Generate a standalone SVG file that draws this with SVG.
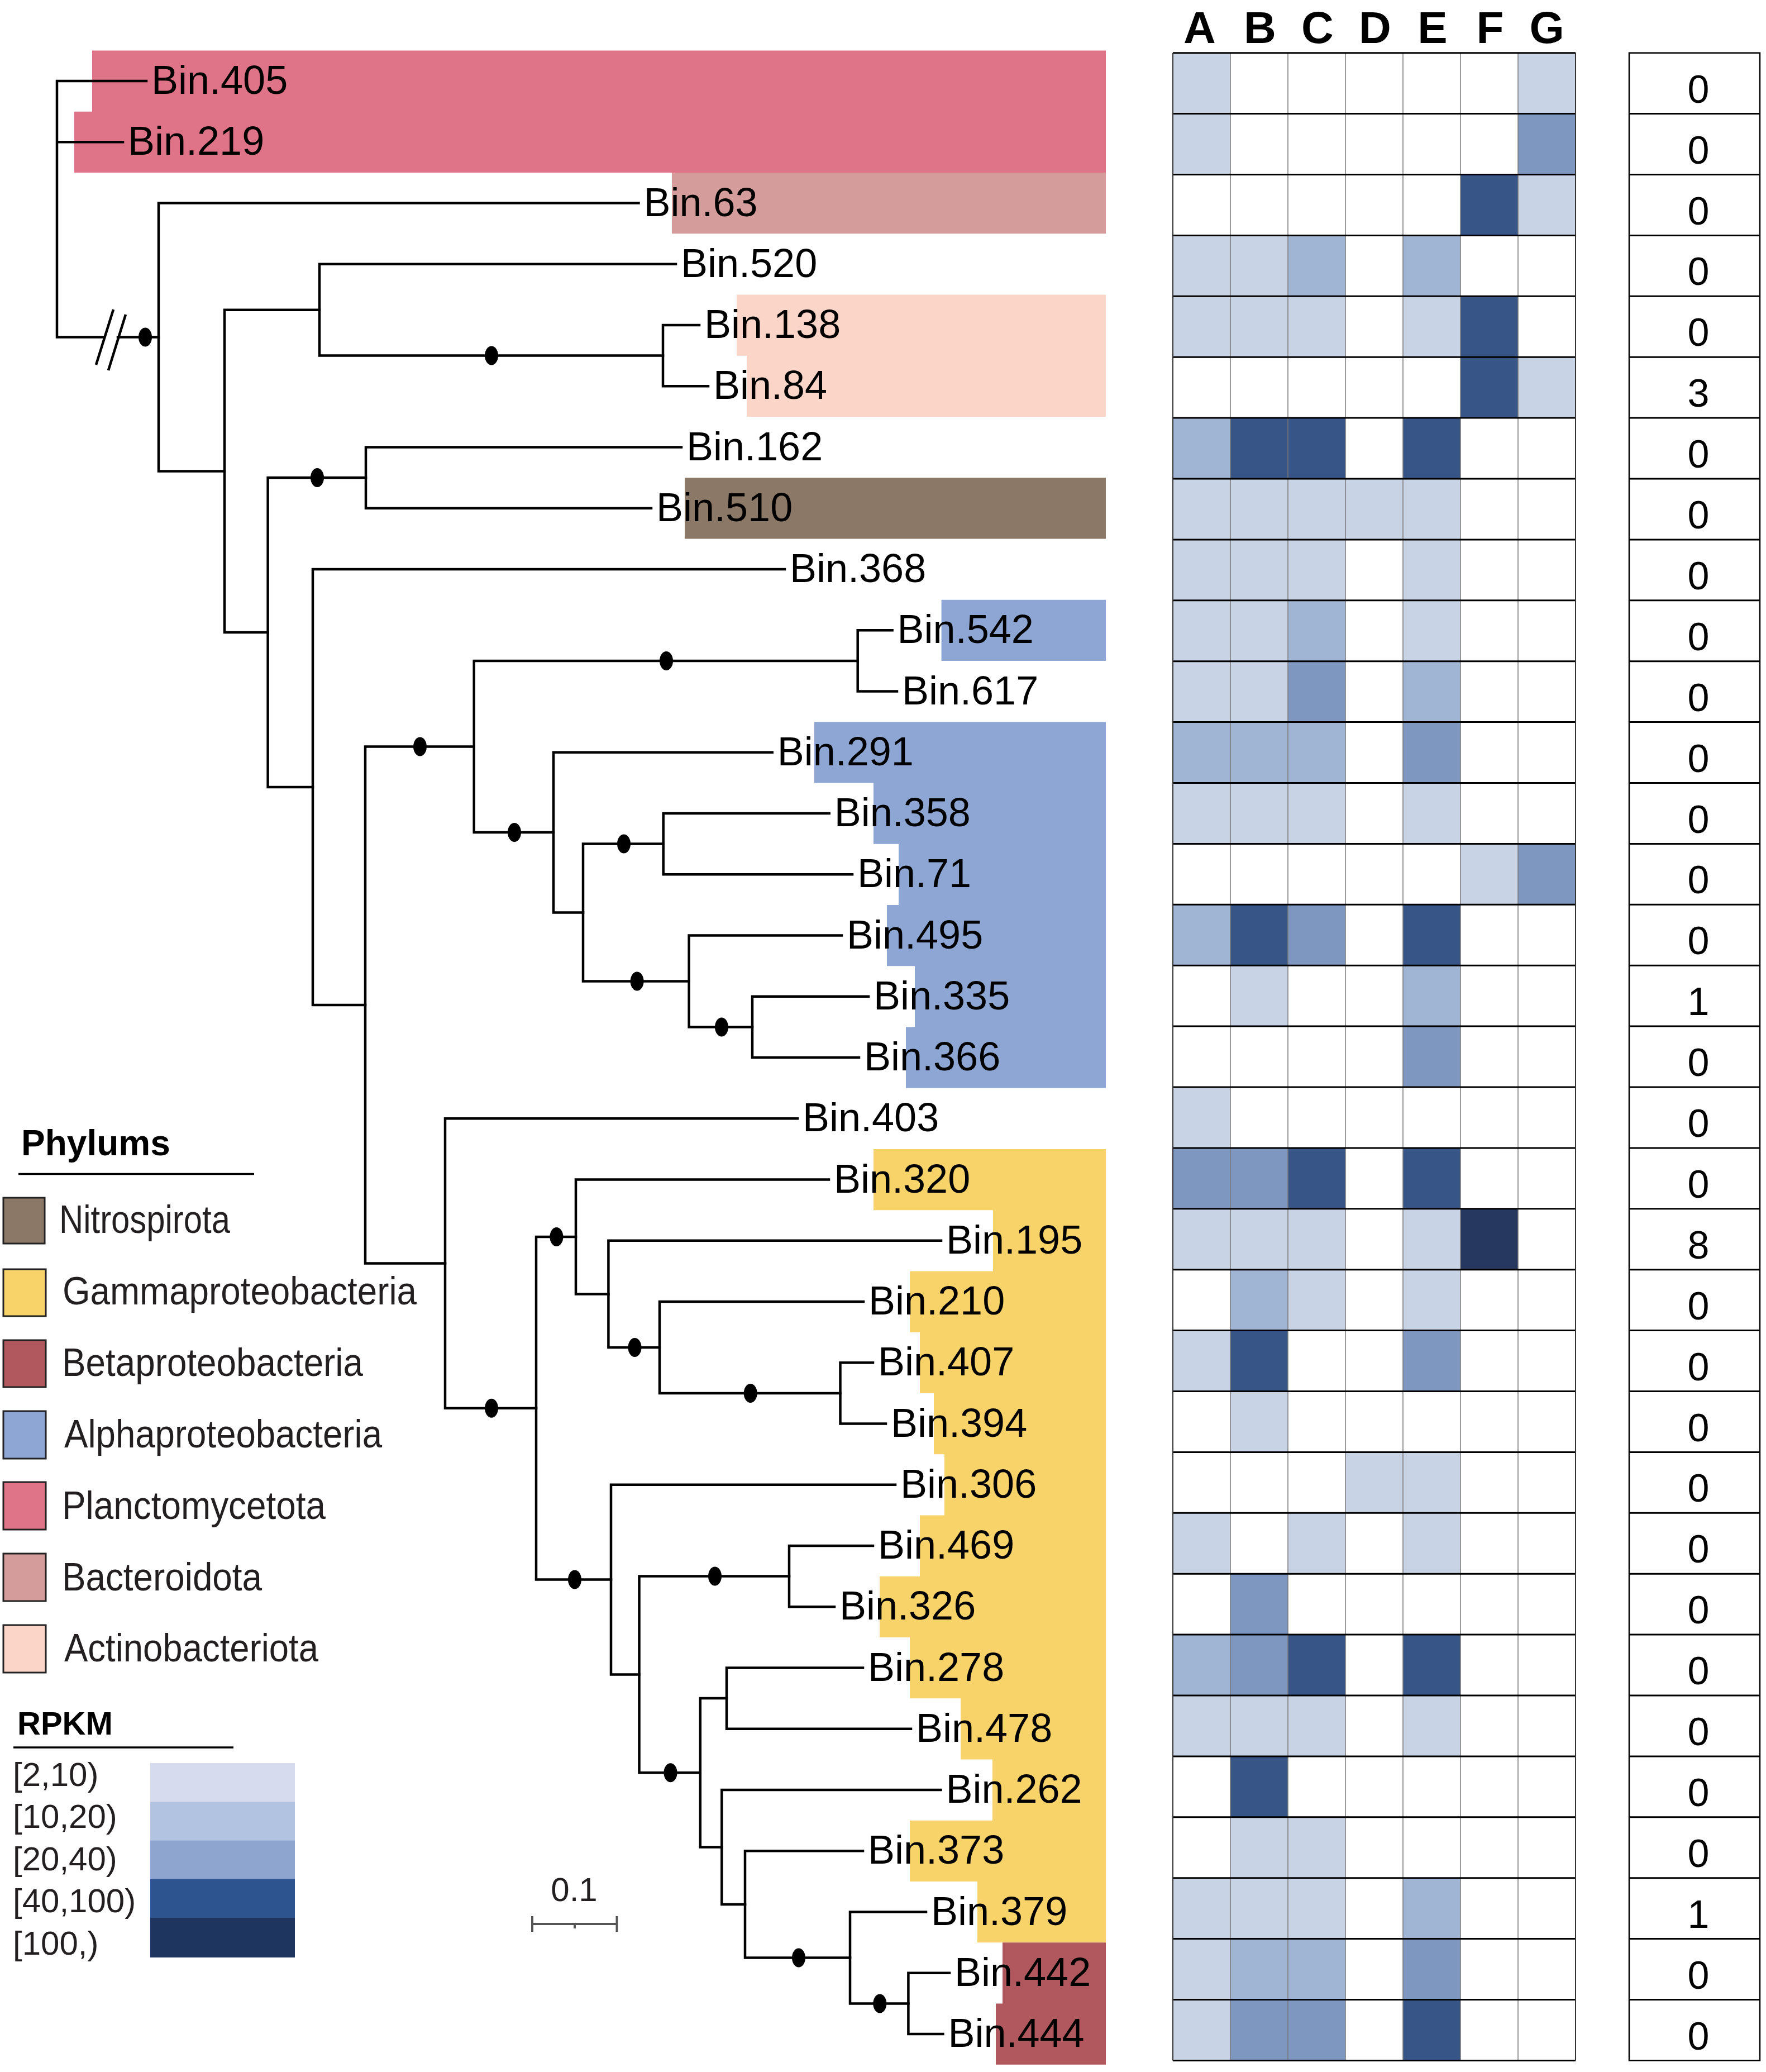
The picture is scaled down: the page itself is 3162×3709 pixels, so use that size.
<svg xmlns="http://www.w3.org/2000/svg" width="3162" height="3709" viewBox="0 0 3162 3709">
<style>
.edge{fill:none;stroke:#000;stroke-width:4.5;stroke-linecap:square}
.dot{fill:#000}
.leaf{font-family:"Liberation Sans",Arial,sans-serif;font-size:72px;fill:#000}
.hdr{font-family:"Liberation Sans",Arial,sans-serif;font-size:80px;font-weight:bold;fill:#000;text-anchor:middle}
.cnt{font-family:"Liberation Sans",Arial,sans-serif;font-size:70px;fill:#000;text-anchor:middle}
.lg{font-family:"Liberation Sans",Arial,sans-serif;font-size:71px;fill:#231f20}
.lgt{font-family:"Liberation Sans",Arial,sans-serif;font-weight:bold;fill:#000}
.rk{font-family:"Liberation Sans",Arial,sans-serif;font-size:60px;fill:#231f20}
.h1{fill:#c8d3e5}.h2{fill:#a0b4d4}.h3{fill:#7e97c0}.h4{fill:#375687}.h5{fill:#26385f}
.hl{stroke:#000;stroke-width:3}
.vl{stroke:#7a7a7a;stroke-width:1.5}
.sw{stroke:#222;stroke-width:3}
</style>

<g id="clade-highlights">
<path id="hl-planctomycetota" fill="#df7387" d="M165,90.4 H1980 V308.9 H133 V199.65 H165 Z"/>
<path id="hl-bacteroidota" fill="#d49c9b" d="M1203,308.9 H1980 V418.15 H1203 Z"/>
<path id="hl-actinobacteriota" fill="#fad5c8" d="M1319,527.4 H1980 V745.9 H1337 V636.65 H1319 Z"/>
<path id="hl-nitrospirota" fill="#8b7866" d="M1226,855.15 H1980 V964.4 H1226 Z"/>
<path id="hl-alpha1" fill="#8da6d4" d="M1685.6,1073.65 H1980 V1182.9 H1685.6 Z"/>
<path id="hl-alpha2" fill="#8da6d4" d="M1458,1292.15 H1980 V1947.65 H1622 V1838.4 H1638 V1729.15 H1588 V1619.9 H1609 V1510.65 H1564 V1401.4 H1458 Z"/>
<path id="hl-gamma" fill="#f7d36a" d="M1564,2056.9 H1980 V3477.15 H1750 V3367.9 H1629 V3258.65 H1777 V3149.4 H1720 V3040.15 H1629 V2930.9 H1575 V2821.65 H1647 V2712.4 H1691 V2603.15 H1672 V2493.9 H1647 V2384.65 H1629 V2275.4 H1778 V2166.15 H1564 Z"/>
<path id="hl-beta" fill="#b0585d" d="M1795,3477.15 H1980 V3695.65 H1783 V3586.4 H1795 Z"/>
</g>

<g id="connectors">
<path class="edge" d="M102,145 V603.5 M102,145 H262 M102,254.25 H220 M102,603.5 H186 M211,603.5 H284"/>
<path class="edge" d="M203,554 L172,653 M225,563 L194,663" style="stroke-linecap:butt"/>
<path class="edge" d="M284,363.5 V843.4 M284,363.5 H1143.5 M284,843.4 H402"/>
<path class="edge" d="M402,554.7 V1132.1 M402,554.7 H572 M402,1132.1 H479.6"/>
<path class="edge" d="M572,472.75 V636.6 M572,472.75 H1210 M572,636.6 H1187"/>
<path class="edge" d="M1187,582 V691.25 M1187,582 H1252 M1187,691.25 H1268"/>
<path class="edge" d="M479.6,855.1 V1409 M479.6,855.1 H655 M479.6,1409 H560"/>
<path class="edge" d="M655,800.5 V909.75 M655,800.5 H1220 M655,909.75 H1166"/>
<path class="edge" d="M560,1019 V1799 M560,1019 H1405 M560,1799 H654"/>
<path class="edge" d="M654,1336.5 V2261.5 M654,1336.5 H848.7 M654,2261.5 H797"/>
<path class="edge" d="M848.7,1182.9 V1490.1 M848.7,1182.9 H1535.7 M848.7,1490.1 H991"/>
<path class="edge" d="M1535.7,1128.25 V1237.5 M1535.7,1128.25 H1597.6 M1535.7,1237.5 H1606"/>
<path class="edge" d="M991,1346.75 V1633.5 M991,1346.75 H1382.7 M991,1633.5 H1044"/>
<path class="edge" d="M1044,1510.6 V1756.4 M1044,1510.6 H1187.7 M1044,1756.4 H1233.6"/>
<path class="edge" d="M1187.7,1456 V1565.25 M1187.7,1456 H1484.7 M1187.7,1565.25 H1526"/>
<path class="edge" d="M1233.6,1674.5 V1838.4 M1233.6,1674.5 H1507 M1233.6,1838.4 H1347"/>
<path class="edge" d="M1347,1783.75 V1893 M1347,1783.75 H1555 M1347,1893 H1538"/>
<path class="edge" d="M797,2002.25 V2520.8 M797,2002.25 H1428 M797,2520.8 H960"/>
<path class="edge" d="M960,2214 V2827.6 M960,2214 H1031 M960,2827.6 H1094"/>
<path class="edge" d="M1031,2111.5 V2316.4 M1031,2111.5 H1484 M1031,2316.4 H1089.4"/>
<path class="edge" d="M1089.4,2220.75 V2412 M1089.4,2220.75 H1685 M1089.4,2412 H1181"/>
<path class="edge" d="M1181,2330 V2493.9 M1181,2330 H1546 M1181,2493.9 H1504.5"/>
<path class="edge" d="M1504.5,2439.25 V2548.5 M1504.5,2439.25 H1563 M1504.5,2548.5 H1586"/>
<path class="edge" d="M1094,2657.75 V2997.4 M1094,2657.75 H1603 M1094,2997.4 H1144.5"/>
<path class="edge" d="M1144.5,2821.6 V3173.3 M1144.5,2821.6 H1413 M1144.5,3173.3 H1253.8"/>
<path class="edge" d="M1413,2767 V2876.25 M1413,2767 H1563 M1413,2876.25 H1494"/>
<path class="edge" d="M1253.8,3040.1 V3306.4 M1253.8,3040.1 H1301 M1253.8,3306.4 H1292.3"/>
<path class="edge" d="M1301,2985.5 V3094.75 M1301,2985.5 H1545 M1301,3094.75 H1631"/>
<path class="edge" d="M1292.3,3204 V3408.9 M1292.3,3204 H1684.4 M1292.3,3408.9 H1334"/>
<path class="edge" d="M1334,3313.25 V3504.5 M1334,3313.25 H1545 M1334,3504.5 H1522"/>
<path class="edge" d="M1522,3422.5 V3586.4 M1522,3422.5 H1658 M1522,3586.4 H1626.4"/>
<path class="edge" d="M1626.4,3531.75 V3641 M1626.4,3531.75 H1700 M1626.4,3641 H1688.4"/>
<g id="support-dots" class="dot">
<ellipse cx="260" cy="603.5" rx="12" ry="17"/>
<ellipse cx="880" cy="636.6" rx="12" ry="17"/>
<ellipse cx="568" cy="855.1" rx="12" ry="17"/>
<ellipse cx="1193" cy="1182.9" rx="12" ry="17"/>
<ellipse cx="752" cy="1336.5" rx="12" ry="17"/>
<ellipse cx="921" cy="1490.1" rx="12" ry="17"/>
<ellipse cx="1117" cy="1510.6" rx="12" ry="17"/>
<ellipse cx="1140.6" cy="1756.4" rx="12" ry="17"/>
<ellipse cx="1292" cy="1838.4" rx="12" ry="17"/>
<ellipse cx="880" cy="2520.8" rx="12" ry="17"/>
<ellipse cx="996.4" cy="2214" rx="12" ry="17"/>
<ellipse cx="1136.5" cy="2412" rx="12" ry="17"/>
<ellipse cx="1343.7" cy="2493.9" rx="12" ry="17"/>
<ellipse cx="1029" cy="2827.6" rx="12" ry="17"/>
<ellipse cx="1280" cy="2821.6" rx="12" ry="17"/>
<ellipse cx="1200.5" cy="3173.3" rx="12" ry="17"/>
<ellipse cx="1430" cy="3504.5" rx="12" ry="17"/>
<ellipse cx="1575.3" cy="3586.4" rx="12" ry="17"/>
</g>
</g>

<g id="leaves" class="leaf">
<g id="leaf-bin405"><text x="271" y="168">Bin.405</text></g>
<g id="leaf-bin219"><text x="229" y="277.25">Bin.219</text></g>
<g id="leaf-bin63"><text x="1152.5" y="386.5">Bin.63</text></g>
<g id="leaf-bin520"><text x="1219" y="495.75">Bin.520</text></g>
<g id="leaf-bin138"><text x="1261" y="605">Bin.138</text></g>
<g id="leaf-bin84"><text x="1277" y="714.25">Bin.84</text></g>
<g id="leaf-bin162"><text x="1229" y="823.5">Bin.162</text></g>
<g id="leaf-bin510"><text x="1175" y="932.75">Bin.510</text></g>
<g id="leaf-bin368"><text x="1414" y="1042">Bin.368</text></g>
<g id="leaf-bin542"><text x="1606.6" y="1151.25">Bin.542</text></g>
<g id="leaf-bin617"><text x="1615" y="1260.5">Bin.617</text></g>
<g id="leaf-bin291"><text x="1391.7" y="1369.75">Bin.291</text></g>
<g id="leaf-bin358"><text x="1493.7" y="1479">Bin.358</text></g>
<g id="leaf-bin71"><text x="1535" y="1588.25">Bin.71</text></g>
<g id="leaf-bin495"><text x="1516" y="1697.5">Bin.495</text></g>
<g id="leaf-bin335"><text x="1564" y="1806.75">Bin.335</text></g>
<g id="leaf-bin366"><text x="1547" y="1916">Bin.366</text></g>
<g id="leaf-bin403"><text x="1437" y="2025.25">Bin.403</text></g>
<g id="leaf-bin320"><text x="1493" y="2134.5">Bin.320</text></g>
<g id="leaf-bin195"><text x="1694" y="2243.75">Bin.195</text></g>
<g id="leaf-bin210"><text x="1555" y="2353">Bin.210</text></g>
<g id="leaf-bin407"><text x="1572" y="2462.25">Bin.407</text></g>
<g id="leaf-bin394"><text x="1595" y="2571.5">Bin.394</text></g>
<g id="leaf-bin306"><text x="1612" y="2680.75">Bin.306</text></g>
<g id="leaf-bin469"><text x="1572" y="2790">Bin.469</text></g>
<g id="leaf-bin326"><text x="1503" y="2899.25">Bin.326</text></g>
<g id="leaf-bin278"><text x="1554" y="3008.5">Bin.278</text></g>
<g id="leaf-bin478"><text x="1640" y="3117.75">Bin.478</text></g>
<g id="leaf-bin262"><text x="1693.4" y="3227">Bin.262</text></g>
<g id="leaf-bin373"><text x="1554" y="3336.25">Bin.373</text></g>
<g id="leaf-bin379"><text x="1667" y="3445.5">Bin.379</text></g>
<g id="leaf-bin442"><text x="1709" y="3554.75">Bin.442</text></g>
<g id="leaf-bin444"><text x="1697.4" y="3664">Bin.444</text></g>
</g>

<g id="scale-bar">
<path d="M953,3444 H1104.5 M953,3430 V3458 M1104.5,3430 V3458 M1029,3444 V3452" fill="none" stroke="#555" stroke-width="4"/>
<text x="1028" y="3403" class="rk" text-anchor="middle">0.1</text>
</g>

<g id="heatmap">
<g id="heatmap-header" class="hdr">
<text x="2148" y="77">A</text><text x="2256" y="77">B</text><text x="2359" y="77">C</text><text x="2462" y="77">D</text><text x="2565" y="77">E</text><text x="2668" y="77">F</text><text x="2769.5" y="77">G</text>
</g>
<rect x="2100" y="94.7" width="721" height="3593.7" fill="#fff"/>
<g id="heatmap-cells">
<rect class="h1" x="2100" y="94.7" width="103" height="108.9"/><rect class="h1" x="2718" y="94.7" width="103" height="108.9"/>
<rect class="h1" x="2100" y="203.6" width="103" height="108.9"/><rect class="h3" x="2718" y="203.6" width="103" height="108.9"/>
<rect class="h4" x="2615" y="312.5" width="103" height="108.9"/><rect class="h1" x="2718" y="312.5" width="103" height="108.9"/>
<rect class="h1" x="2100" y="421.4" width="103" height="108.9"/><rect class="h1" x="2203" y="421.4" width="103" height="108.9"/><rect class="h2" x="2306" y="421.4" width="103" height="108.9"/><rect class="h2" x="2512" y="421.4" width="103" height="108.9"/>
<rect class="h1" x="2100" y="530.3" width="103" height="108.9"/><rect class="h1" x="2203" y="530.3" width="103" height="108.9"/><rect class="h1" x="2306" y="530.3" width="103" height="108.9"/><rect class="h1" x="2512" y="530.3" width="103" height="108.9"/><rect class="h4" x="2615" y="530.3" width="103" height="108.9"/>
<rect class="h4" x="2615" y="639.2" width="103" height="108.9"/><rect class="h1" x="2718" y="639.2" width="103" height="108.9"/>
<rect class="h2" x="2100" y="748.1" width="103" height="108.9"/><rect class="h4" x="2203" y="748.1" width="103" height="108.9"/><rect class="h4" x="2306" y="748.1" width="103" height="108.9"/><rect class="h4" x="2512" y="748.1" width="103" height="108.9"/>
<rect class="h1" x="2100" y="857" width="103" height="108.9"/><rect class="h1" x="2203" y="857" width="103" height="108.9"/><rect class="h1" x="2306" y="857" width="103" height="108.9"/><rect class="h1" x="2409" y="857" width="103" height="108.9"/><rect class="h1" x="2512" y="857" width="103" height="108.9"/>
<rect class="h1" x="2100" y="965.9" width="103" height="108.9"/><rect class="h1" x="2203" y="965.9" width="103" height="108.9"/><rect class="h1" x="2306" y="965.9" width="103" height="108.9"/><rect class="h1" x="2512" y="965.9" width="103" height="108.9"/>
<rect class="h1" x="2100" y="1074.8" width="103" height="108.9"/><rect class="h1" x="2203" y="1074.8" width="103" height="108.9"/><rect class="h2" x="2306" y="1074.8" width="103" height="108.9"/><rect class="h1" x="2512" y="1074.8" width="103" height="108.9"/>
<rect class="h1" x="2100" y="1183.7" width="103" height="108.9"/><rect class="h1" x="2203" y="1183.7" width="103" height="108.9"/><rect class="h3" x="2306" y="1183.7" width="103" height="108.9"/><rect class="h2" x="2512" y="1183.7" width="103" height="108.9"/>
<rect class="h2" x="2100" y="1292.6" width="103" height="108.9"/><rect class="h2" x="2203" y="1292.6" width="103" height="108.9"/><rect class="h2" x="2306" y="1292.6" width="103" height="108.9"/><rect class="h3" x="2512" y="1292.6" width="103" height="108.9"/>
<rect class="h1" x="2100" y="1401.5" width="103" height="108.9"/><rect class="h1" x="2203" y="1401.5" width="103" height="108.9"/><rect class="h1" x="2306" y="1401.5" width="103" height="108.9"/><rect class="h1" x="2512" y="1401.5" width="103" height="108.9"/>
<rect class="h1" x="2615" y="1510.4" width="103" height="108.9"/><rect class="h3" x="2718" y="1510.4" width="103" height="108.9"/>
<rect class="h2" x="2100" y="1619.3" width="103" height="108.9"/><rect class="h4" x="2203" y="1619.3" width="103" height="108.9"/><rect class="h3" x="2306" y="1619.3" width="103" height="108.9"/><rect class="h4" x="2512" y="1619.3" width="103" height="108.9"/>
<rect class="h1" x="2203" y="1728.2" width="103" height="108.9"/><rect class="h2" x="2512" y="1728.2" width="103" height="108.9"/>
<rect class="h3" x="2512" y="1837.1" width="103" height="108.9"/>
<rect class="h1" x="2100" y="1946" width="103" height="108.9"/>
<rect class="h3" x="2100" y="2054.9" width="103" height="108.9"/><rect class="h3" x="2203" y="2054.9" width="103" height="108.9"/><rect class="h4" x="2306" y="2054.9" width="103" height="108.9"/><rect class="h4" x="2512" y="2054.9" width="103" height="108.9"/>
<rect class="h1" x="2100" y="2163.8" width="103" height="108.9"/><rect class="h1" x="2203" y="2163.8" width="103" height="108.9"/><rect class="h1" x="2306" y="2163.8" width="103" height="108.9"/><rect class="h1" x="2512" y="2163.8" width="103" height="108.9"/><rect class="h5" x="2615" y="2163.8" width="103" height="108.9"/>
<rect class="h2" x="2203" y="2272.7" width="103" height="108.9"/><rect class="h1" x="2306" y="2272.7" width="103" height="108.9"/><rect class="h1" x="2512" y="2272.7" width="103" height="108.9"/>
<rect class="h1" x="2100" y="2381.6" width="103" height="108.9"/><rect class="h4" x="2203" y="2381.6" width="103" height="108.9"/><rect class="h3" x="2512" y="2381.6" width="103" height="108.9"/>
<rect class="h1" x="2203" y="2490.5" width="103" height="108.9"/>
<rect class="h1" x="2409" y="2599.4" width="103" height="108.9"/><rect class="h1" x="2512" y="2599.4" width="103" height="108.9"/>
<rect class="h1" x="2100" y="2708.3" width="103" height="108.9"/><rect class="h1" x="2306" y="2708.3" width="103" height="108.9"/><rect class="h1" x="2512" y="2708.3" width="103" height="108.9"/>
<rect class="h3" x="2203" y="2817.2" width="103" height="108.9"/>
<rect class="h2" x="2100" y="2926.1" width="103" height="108.9"/><rect class="h3" x="2203" y="2926.1" width="103" height="108.9"/><rect class="h4" x="2306" y="2926.1" width="103" height="108.9"/><rect class="h4" x="2512" y="2926.1" width="103" height="108.9"/>
<rect class="h1" x="2100" y="3035" width="103" height="108.9"/><rect class="h1" x="2203" y="3035" width="103" height="108.9"/><rect class="h1" x="2306" y="3035" width="103" height="108.9"/><rect class="h1" x="2512" y="3035" width="103" height="108.9"/>
<rect class="h4" x="2203" y="3143.9" width="103" height="108.9"/>
<rect class="h1" x="2203" y="3252.8" width="103" height="108.9"/><rect class="h1" x="2306" y="3252.8" width="103" height="108.9"/>
<rect class="h1" x="2100" y="3361.7" width="103" height="108.9"/><rect class="h1" x="2203" y="3361.7" width="103" height="108.9"/><rect class="h1" x="2306" y="3361.7" width="103" height="108.9"/><rect class="h2" x="2512" y="3361.7" width="103" height="108.9"/>
<rect class="h1" x="2100" y="3470.6" width="103" height="108.9"/><rect class="h2" x="2203" y="3470.6" width="103" height="108.9"/><rect class="h2" x="2306" y="3470.6" width="103" height="108.9"/><rect class="h3" x="2512" y="3470.6" width="103" height="108.9"/>
<rect class="h1" x="2100" y="3579.5" width="103" height="108.9"/><rect class="h3" x="2203" y="3579.5" width="103" height="108.9"/><rect class="h3" x="2306" y="3579.5" width="103" height="108.9"/><rect class="h4" x="2512" y="3579.5" width="103" height="108.9"/>
</g>
<g id="heatmap-grid">
<path class="vl" d="M2203,94.7 V3688.4 M2306,94.7 V3688.4 M2409,94.7 V3688.4 M2512,94.7 V3688.4 M2615,94.7 V3688.4 M2718,94.7 V3688.4"/>
<path class="hl" d="M2100,94.7 H2821 M2100,203.6 H2821 M2100,312.5 H2821 M2100,421.4 H2821 M2100,530.3 H2821 M2100,639.2 H2821 M2100,748.1 H2821 M2100,857 H2821 M2100,965.9 H2821 M2100,1074.8 H2821 M2100,1183.7 H2821 M2100,1292.6 H2821 M2100,1401.5 H2821 M2100,1510.4 H2821 M2100,1619.3 H2821 M2100,1728.2 H2821 M2100,1837.1 H2821 M2100,1946 H2821 M2100,2054.9 H2821 M2100,2163.8 H2821 M2100,2272.7 H2821 M2100,2381.6 H2821 M2100,2490.5 H2821 M2100,2599.4 H2821 M2100,2708.3 H2821 M2100,2817.2 H2821 M2100,2926.1 H2821 M2100,3035 H2821 M2100,3143.9 H2821 M2100,3252.8 H2821 M2100,3361.7 H2821 M2100,3470.6 H2821 M2100,3579.5 H2821 M2100,3688.4 H2821"/>
<path d="M2100,94.7 V3688.4 M2821,94.7 V3688.4" stroke="#333" stroke-width="2" fill="none"/>
</g>
</g>

<g id="counts">
<rect x="2917" y="94.7" width="234" height="3593.7" fill="#fff" stroke="#000" stroke-width="2.5"/>
<path class="hl" d="M2917,203.6 H3151 M2917,312.5 H3151 M2917,421.4 H3151 M2917,530.3 H3151 M2917,639.2 H3151 M2917,748.1 H3151 M2917,857 H3151 M2917,965.9 H3151 M2917,1074.8 H3151 M2917,1183.7 H3151 M2917,1292.6 H3151 M2917,1401.5 H3151 M2917,1510.4 H3151 M2917,1619.3 H3151 M2917,1728.2 H3151 M2917,1837.1 H3151 M2917,1946 H3151 M2917,2054.9 H3151 M2917,2163.8 H3151 M2917,2272.7 H3151 M2917,2381.6 H3151 M2917,2490.5 H3151 M2917,2599.4 H3151 M2917,2708.3 H3151 M2917,2817.2 H3151 M2917,2926.1 H3151 M2917,3035 H3151 M2917,3143.9 H3151 M2917,3252.8 H3151 M2917,3361.7 H3151 M2917,3470.6 H3151 M2917,3579.5 H3151"/>
<g class="cnt">
<text x="3041" y="183.7">0</text><text x="3041" y="292.6">0</text><text x="3041" y="401.5">0</text><text x="3041" y="510.4">0</text><text x="3041" y="619.3">0</text><text x="3041" y="728.2">3</text><text x="3041" y="837.1">0</text><text x="3041" y="946">0</text><text x="3041" y="1054.9">0</text><text x="3041" y="1163.8">0</text><text x="3041" y="1272.7">0</text>
<text x="3041" y="1381.6">0</text><text x="3041" y="1490.5">0</text><text x="3041" y="1599.4">0</text><text x="3041" y="1708.3">0</text><text x="3041" y="1817.2">1</text><text x="3041" y="1926.1">0</text><text x="3041" y="2035">0</text><text x="3041" y="2143.9">0</text><text x="3041" y="2252.8">8</text><text x="3041" y="2361.7">0</text><text x="3041" y="2470.6">0</text>
<text x="3041" y="2579.5">0</text><text x="3041" y="2688.4">0</text><text x="3041" y="2797.3">0</text><text x="3041" y="2906.2">0</text><text x="3041" y="3015.1">0</text><text x="3041" y="3124">0</text><text x="3041" y="3232.9">0</text><text x="3041" y="3341.8">0</text><text x="3041" y="3450.7">1</text><text x="3041" y="3559.6">0</text><text x="3041" y="3668.5">0</text>
</g>
</g>

<g id="legend-phylums">
<text class="lgt" x="38" y="2068" font-size="64">Phylums</text>
<path d="M33,2101.5 H455" stroke="#000" stroke-width="3.5"/>
<rect class="sw" x="6" y="2144" width="74" height="82" fill="#8b7866"/>
<text class="lg" x="106" y="2207" textLength="306" lengthAdjust="spacingAndGlyphs">Nitrospirota</text>
<rect class="sw" x="6" y="2272" width="76" height="84" fill="#f7d36a"/>
<text class="lg" x="112" y="2335" textLength="634" lengthAdjust="spacingAndGlyphs">Gammaproteobacteria</text>
<rect class="sw" x="6" y="2399" width="76" height="84" fill="#b0585d"/>
<text class="lg" x="111" y="2463" textLength="539" lengthAdjust="spacingAndGlyphs">Betaproteobacteria</text>
<rect class="sw" x="6" y="2526" width="76" height="85" fill="#8da6d4"/>
<text class="lg" x="115" y="2591" textLength="569" lengthAdjust="spacingAndGlyphs">Alphaproteobacteria</text>
<rect class="sw" x="6" y="2653" width="76" height="85" fill="#df7387"/>
<text class="lg" x="111" y="2719" textLength="472" lengthAdjust="spacingAndGlyphs">Planctomycetota</text>
<rect class="sw" x="6" y="2781" width="76" height="85" fill="#d49c9b"/>
<text class="lg" x="111" y="2847" textLength="358" lengthAdjust="spacingAndGlyphs">Bacteroidota</text>
<rect class="sw" x="6" y="2909" width="76" height="85" fill="#fad5c8"/>
<text class="lg" x="115" y="2974" textLength="455" lengthAdjust="spacingAndGlyphs">Actinobacteriota</text>
</g>

<g id="legend-rpkm">
<text class="lgt" x="31" y="3105" font-size="58">RPKM</text>
<path d="M24,3128 H418" stroke="#000" stroke-width="3.5"/>
<text class="rk" x="23" y="3197" font-size="63">[2,10)</text>
<text class="rk" x="23" y="3272" font-size="63">[10,20)</text>
<text class="rk" x="23" y="3348" font-size="63">[20,40)</text>
<text class="rk" x="23" y="3423" font-size="63">[40,100)</text>
<text class="rk" x="23" y="3499" font-size="63">[100,)</text>
<rect x="269" y="3156" width="259" height="70" fill="#d6dced"/>
<rect x="269" y="3225.5" width="259" height="69.5" fill="#b2c2e1"/>
<rect x="269" y="3294.6" width="259" height="69.5" fill="#8ea5d0"/>
<rect x="269" y="3363.5" width="259" height="69.5" fill="#2e5490"/>
<rect x="269" y="3433" width="259" height="71" fill="#1e355f"/>
</g>
</svg>
